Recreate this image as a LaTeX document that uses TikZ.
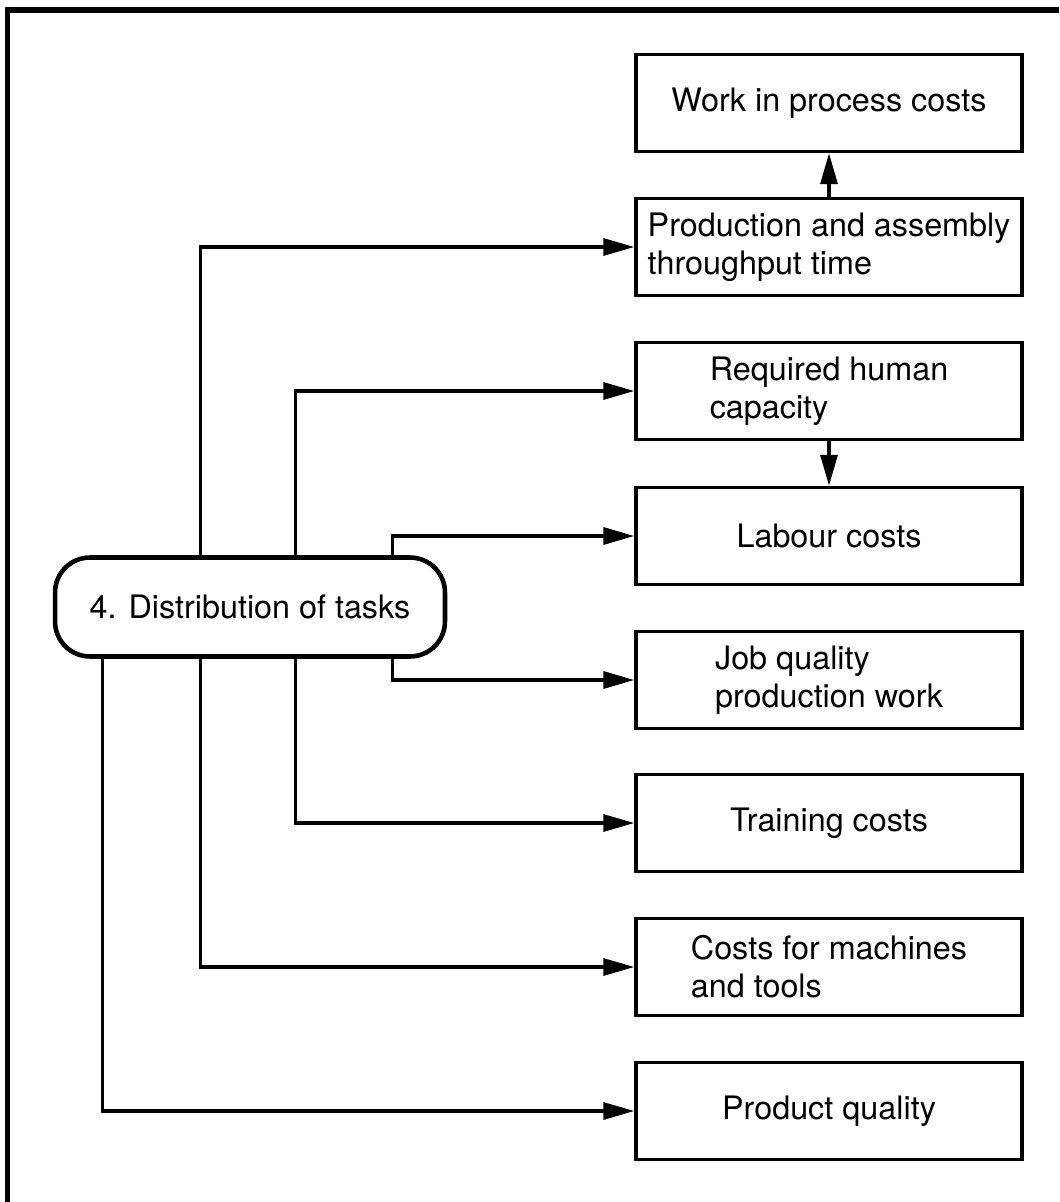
\documentclass[tikz,border=0pt]{standalone}
\usepackage{fontspec}
\setmainfont{TeX Gyre Heros}
\usetikzlibrary{arrows.meta, positioning}

\begin{document}
\begin{tikzpicture}[x=0.02cm, y=-0.02cm,
		box/.style={draw, line width=2pt, minimum width=7.72cm, minimum height=1.94cm, inner sep=0pt, align=left, font=\fontsize{18.4}{21.8}\selectfont},
		task/.style={draw, line width=2.6pt, rounded corners=0.7cm, minimum width=7.8cm, minimum height=1.98cm, inner sep=0pt, font=\fontsize{18.4}{21.8}\selectfont},
		conn/.style={line width=1.9pt, -{Triangle[length=0.62cm, width=0.34cm]}}]
		\useasboundingbox (0,0) rectangle (1059,1202);
		
		% Frame
		\draw[line width=3pt] (7.5,1202) -- (7.5,10) -- (1059,10);
		
		% Effects
		\node[box] (wip) at (829,103) {Work in process costs};
		\node[box] (thru) at (829,247) {Production and assembly\\throughput time};
		\node[box] (human) at (829,391) {Required human\\capacity};
		\node[box] (labour) at (829,536) {Labour costs};
		\node[box] (job) at (829,680) {Job quality\\production work};
		\node[box] (train) at (829,823) {Training costs};
		\node[box] (mach) at (829,967) {Costs for machines\\and tools};
		\node[box] (prodq) at (829,1111) {Product quality};
		
		% Cause
		\node[task] (dist) at (250,607) {4. Distribution of tasks};
		
		% Connectors above the cause
		\draw[conn] (dist.north west) ++(148,0) |- (thru.west);
		\draw[conn] (dist.north west) ++(243,0) |- (human.west);
		\draw[conn] (dist.north west) ++(340,0) |- (labour.west);
		
		% Connectors below the cause
		\draw[conn] (dist.south west) ++(340,0) |- (job.west);
		\draw[conn] (dist.south west) ++(243,0) |- (train.west);
		\draw[conn] (dist.south west) ++(148,0) |- (mach.west);
		\draw[conn] (dist.south west) ++(50,0) |- (prodq.west);
		
		% Links between effects
		\draw[conn] (thru.north) -- (wip.south);
		\draw[conn] (human.south) -- (labour.north);
	\end{tikzpicture}
\end{document}
